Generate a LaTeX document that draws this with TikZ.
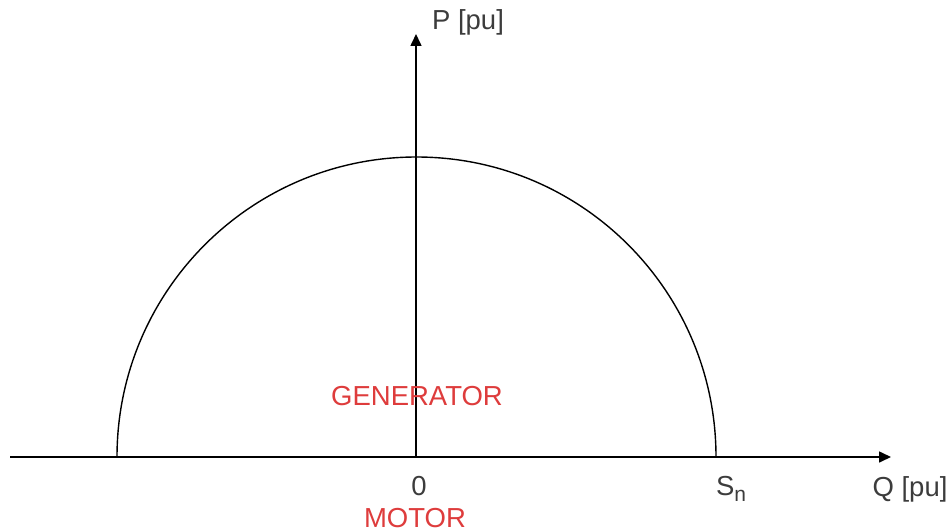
\documentclass[tikz,border=0pt]{standalone}
\usepackage{fontspec}
\setmainfont{Liberation Sans}
\usetikzlibrary{arrows.meta}
\definecolor{lblred}{RGB}{222,60,60}
\definecolor{lblgray}{RGB}{60,60,60}
\tikzset{
  axis/.style={line width=1.6pt, -{Triangle[length=12pt,width=11pt]}},
  curve/.style={line width=1.4pt},
  lbl/.style={inner sep=0pt, text=lblgray, font=\fontsize{27.5}{30}\selectfont},
  redlbl/.style={inner sep=0pt, text=lblred, font=\fontsize{27.5}{30}\selectfont}
}
\begin{document}
\begin{tikzpicture}[x=1pt,y=-1pt]
\useasboundingbox (0,0) rectangle (952,532);
\coordinate (O) at (416,457);
\coordinate (qstart) at (10,457);
\coordinate (qend) at (891,457);
\coordinate (pend) at (416,34);
\coordinate (arcL) at (117,457);
\draw[curve] (arcL) arc[start angle=180, end angle=0, x radius=299.5, y radius=-300];
\draw[axis] (qstart) -- (qend);
\draw[axis] (O) -- (pend);
\node[lbl] (plbl) at (468,22) {P [pu]};
\node[redlbl] (gen) at (417,396) {GENERATOR};
\node[lbl] (zero) at (419,486) {0};
\node[redlbl] (mot) at (415,518) {MOTOR};
\node[lbl] (sn) at (731,489) {S\raisebox{-6pt}{\fontsize{21}{24}\selectfont n}};
\node[lbl] (qlbl) at (910,489) {Q [pu]};
\end{tikzpicture}
\end{document}
